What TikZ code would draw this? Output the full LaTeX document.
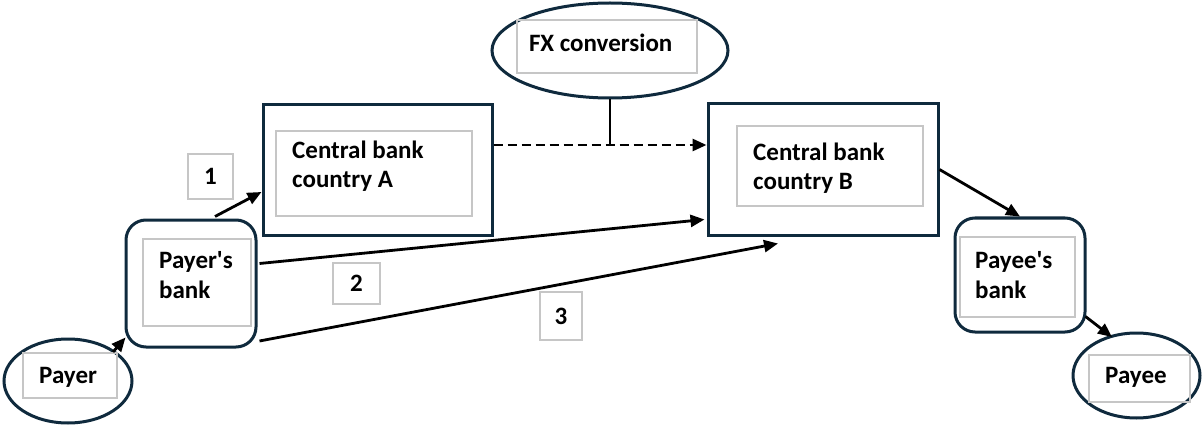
\documentclass[tikz,border=0pt]{standalone}
\usepackage{fontspec}
\setmainfont{Carlito}[Ligatures=TeXOff]
\usetikzlibrary{shapes.geometric,arrows.meta,calc}
\definecolor{outl}{HTML}{0F2A3D}
\definecolor{inbox}{HTML}{C6C6C6}
\begin{document}
\begin{tikzpicture}[x=1pt,y=-1pt,
  outerbox/.style={rectangle,draw=outl,line width=3pt,inner sep=0pt},
  outerell/.style={ellipse,draw=outl,line width=3pt,inner sep=0pt},
  inbox/.style={rectangle,draw=inbox,line width=1.5pt,inner sep=0pt},
  txt/.style={font=\fontsize{25}{29.5}\selectfont\bfseries,inner sep=0pt,align=left,anchor=west},
  num/.style={font=\fontsize{25}{29}\selectfont\bfseries,inner sep=0pt},
  arr/.style={line width=2.8pt,-{Triangle[length=14pt,width=12pt]}},
  conn/.style={line width=2.8pt}
]
\useasboundingbox (0,0) rectangle (1203,425);

% shapes
\node[outerell,minimum width=128pt,minimum height=84pt] (payer) at (68,381) {};
\node[inbox,minimum width=94pt,minimum height=45pt] (payerin) at (70,375.5) {};
\node[outerbox,rounded corners=20pt,minimum width=130pt,minimum height=127pt] (pb) at (191,283.5) {};
\node[inbox,minimum width=108pt,minimum height=87pt] (pbin) at (197,282.5) {};
\node[outerbox,minimum width=229pt,minimum height=130pt] (cba) at (377.5,170) {};
\node[inbox,minimum width=196pt,minimum height=85pt] (cbain) at (374,173.5) {};
\node[outerbox,minimum width=230pt,minimum height=131pt] (cbb) at (823,169.5) {};
\node[inbox,minimum width=186pt,minimum height=80pt] (cbbin) at (830,166) {};
\node[outerell,minimum width=236pt,minimum height=95pt] (fx) at (610,50.5) {};
\node[inbox,minimum width=180pt,minimum height=53pt] (fxin) at (607,46.5) {};
\node[outerbox,rounded corners=20pt,minimum width=130pt,minimum height=114pt] (peb) at (1020,275) {};
\node[inbox,minimum width=115pt,minimum height=80pt] (pebin) at (1017.5,277) {};
\node[outerell,minimum width=127pt,minimum height=85pt] (payee) at (1136.5,375.5) {};
\node[inbox,minimum width=101pt,minimum height=47pt] (payeein) at (1139.5,378.5) {};

% number labels
\node[inbox,minimum width=45pt,minimum height=45pt] (l1) at (210.5,176.5) {};
\node[num] (n1) at (210.5,176.5) {1};
\node[inbox,minimum width=47pt,minimum height=41pt] (l2) at (356.5,283.5) {};
\node[num] (n2) at (356.5,283.5) {2};
\node[inbox,minimum width=42pt,minimum height=48pt] (l3) at (561,316) {};
\node[num] (n3) at (561,316) {3};

% texts
\node[txt] (tpayer) at (39,377) {Payer};
\node[txt] (tpb) at (159,275) {Payer's\\bank};
\node[txt] (tcba) at (292,166) {Central bank\\country A};
\node[txt] (tcbb) at (753,168) {Central bank\\country B};
\node[txt] (tfx) at (529,43) {FX conversion};
\node[txt] (tpeb) at (975,275) {Payee's\\bank};
\node[txt] (tpayee) at (1105,377) {Payee};

% connectors
\coordinate (dA) at ($(cba.east)+(0,-25)$);
\draw[arr,dash pattern=on 9pt off 5pt] (dA) -- (dA -| cbb.west);
\draw[conn] (fx.south) -- (fx.south |- dA);

\draw[arr] ($(payer.center)+(45,-29)$) -- ($(pb.south west)+(1,-11)$);
\draw[arr] ($(pb.north)+(24,-2)$) -- ($(cba.west)+(0,22)$);
\draw[arr] ($(pb.east)+(2,-20)$) -- ($(cbb.west)+(-2,50)$);
\draw[arr] ($(pb.east)+(2,57.5)$) -- ($(cbb.south)+(-45,7)$);
\draw[arr] (cbb.east) -- (peb.north);
\draw[arr] ($(peb.south east)+(-1,-17)$) -- ($(payee.center)+(-24.5,-38.5)$);
\end{tikzpicture}
\end{document}
